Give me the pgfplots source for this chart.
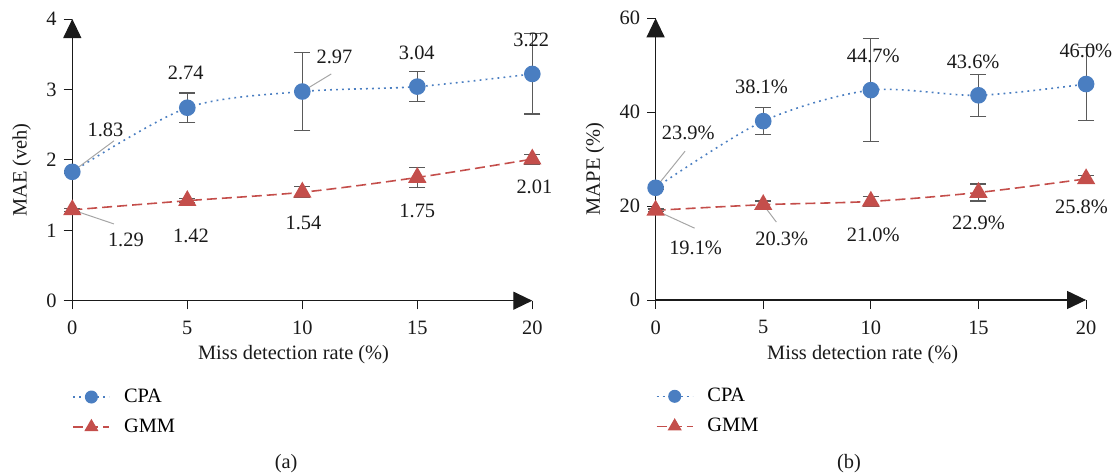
\documentclass[border=0pt]{standalone}
\usepackage{pgfplots}
\pgfplotsset{compat=1.18}
\usepackage{fontspec}
\setmainfont{Liberation Serif}
\usetikzlibrary{arrows.meta}

\definecolor{cpablue}{HTML}{4A7EC1}
\definecolor{gmmred}{HTML}{C44E4B}
\definecolor{errgray}{HTML}{5A5A5A}
\definecolor{leadgray}{HTML}{A6A6A6}
\definecolor{axisdark}{HTML}{1A1A1A}

\newcommand{\lblfont}{\fontsize{10.2bp}{12bp}\selectfont}

\pgfplotsset{
  panel/.style={
    scale only axis,
    axis lines=left,
    axis line style={axisdark, line width=0.6pt, -{Triangle[length=9.5bp,width=9bp]}},
    xmin=0, xmax=20, ymin=0,
    xtick={0,5,10,15,20},
    tick align=outside,
    major tick length=4.3bp,
    tick style={axisdark, line width=0.5pt},
    /pgf/number format/assume math mode=true,
    every tick label/.append style={font=\lblfont, text=axisdark},
    xticklabel style={yshift=-2.5bp},
    label style={font=\lblfont, text=axisdark},
    clip=false,
    xlabel={Miss detection rate (\%)},
    xlabel style={at={(axis description cs:0.481,-0.193)}, anchor=center},
    legend style={draw=none, fill=none, font=\lblfont, inner sep=0pt,
      nodes={inner sep=0pt, text height=7.5bp, text depth=2.5bp},
      row sep=5bp,
      /tikz/every odd column/.style={column sep=7bp},
      at={(axis description cs:0,-0.305)}, anchor=north west},
    legend cell align=left,
    legend image code/.code={
      \draw[##1, mark repeat=2, mark phase=2]
        plot coordinates {(0bp,0bp) (9bp,0bp) (18bp,0bp)};
    },
  },
  errstyle/.style={
    error bars/y dir=both,
    error bars/y explicit,
    error bars/error bar style={errgray, line width=0.6pt, solid},
    error bars/error mark options={rotate=90, mark size=4bp, errgray, line width=0.6pt, solid},
  },
  cpaline/.style={cpablue, line width=0.8pt, dash pattern=on 0.9bp off 2.1bp,
    mark=*, mark options={solid, fill=cpablue, draw=cpablue}},
  gmmline/.style={gmmred, line width=0.8pt, dash pattern=on 5bp off 2.5bp,
    mark=triangle*, mark options={solid, fill=gmmred, draw=gmmred}},
  cpa/.style={cpaline, smooth, mark size=3.75bp, errstyle},
  gmm/.style={gmmline, smooth, mark size=4.5bp, errstyle},
  cpakey/.style={cpaline, line width=0.7pt, mark size=2.9bp},
  gmmkey/.style={gmmline, line width=0.7pt, mark size=3.4bp},
}

\begin{document}
\begin{tikzpicture}
\useasboundingbox (0,0) rectangle (559.5bp,237bp);

% (a) mean absolute error
\begin{axis}[panel,
  at={(36.15bp,86.65bp)}, anchor=south west,
  width=230bp, height=140.85bp,
  ymax=4, ytick={0,1,2,3,4},
  ylabel={MAE (veh)},
  ylabel style={at={(axis description cs:-0.110,0.464)}, anchor=center},
]
\addlegendimage{cpakey}
\addlegendentry{CPA}
\addlegendimage{gmmkey}
\addlegendentry{GMM}

\addplot[forget plot, cpa] coordinates {
  (0,1.83) +- (0,0.02)
  (5,2.74) +- (0,0.21)
  (10,2.97) +- (0,0.55)
  (15,3.04) +- (0,0.21)
  (20,3.22) +- (0,0.57)
};
\addplot[forget plot, gmm] coordinates {
  (0,1.29) +- (0,0.02)
  (5,1.42) +- (0,0.03)
  (10,1.54) +- (0,0.08)
  (15,1.75) +- (0,0.14)
  (20,2.01) +- (0,0.07)
};

\draw[leadgray, line width=0.5pt] (axis cs:0,1.83) -- (axis cs:1.81,2.27);
\draw[leadgray, line width=0.5pt] (axis cs:10,2.97) -- (axis cs:11.26,3.22);
\draw[leadgray, line width=0.5pt] (axis cs:0,1.29) -- (axis cs:1.81,1.09);

\begin{scope}[every node/.style={font=\lblfont, text=axisdark}]
\node at (axis cs:1.44,2.43) {1.83};
\node at (axis cs:4.93,3.23) {2.74};
\node at (axis cs:11.40,3.46) {2.97};
\node at (axis cs:14.98,3.52) {3.04};
\node at (axis cs:19.95,3.70) {3.22};
\node at (axis cs:2.33,0.87) {1.29};
\node at (axis cs:5.16,0.92) {1.42};
\node at (axis cs:10.05,1.11) {1.54};
\node at (axis cs:15.00,1.28) {1.75};
\node at (axis cs:20.09,1.62) {2.01};
\node at (axis description cs:0.465,-0.58) {(a)};
\end{scope}
\end{axis}

% (b) mean absolute percentage error
\begin{axis}[panel,
  at={(327.8bp,87bp)}, anchor=south west,
  width=215.25bp, height=140.85bp,
  ymax=60, ytick={0,20,40,60},
  ylabel={MAPE (\%)},
  ylabel style={at={(axis description cs:-0.141,0.465)}, anchor=center},
]
\addlegendimage{cpakey}
\addlegendentry{CPA}
\addlegendimage{gmmkey}
\addlegendentry{GMM}

\addplot[forget plot, cpa] coordinates {
  (0,23.9) +- (0,0.3)
  (5,38.1) +- (0,2.9)
  (10,44.7) +- (0,11.0)
  (15,43.6) +- (0,4.5)
  (20,46.0) +- (0,7.7)
};
\addplot[forget plot, gmm] coordinates {
  (0,19.1) +- (0,0.3)
  (5,20.3) +- (0,0.8)
  (10,21.0) +- (0,1.1)
  (15,22.9) +- (0,1.8)
  (20,25.8) +- (0,0.8)
};

\draw[leadgray, line width=0.5pt] (axis cs:0,23.9) -- (axis cs:1.37,31.7);
\draw[leadgray, line width=0.5pt] (axis cs:0,19.1) -- (axis cs:1.81,15.3);
\draw[leadgray, line width=0.5pt] (axis cs:5,20.3) -- (axis cs:5.61,16.6);

\begin{scope}[every node/.style={font=\lblfont, text=axisdark}]
\node at (axis cs:1.52,35.5) {23.9\%};
\node at (axis cs:4.92,45.5) {38.1\%};
\node at (axis cs:10.11,51.9) {44.7\%};
\node at (axis cs:14.75,50.8) {43.6\%};
\node at (axis cs:19.99,53.1) {46.0\%};
\node at (axis cs:1.86,11.1) {19.1\%};
\node at (axis cs:5.86,13.0) {20.3\%};
\node at (axis cs:10.11,13.9) {21.0\%};
\node at (axis cs:15.00,16.4) {22.9\%};
\node at (axis cs:19.79,19.8) {25.8\%};
\node at (axis description cs:0.449,-0.58) {(b)};
\end{scope}
\end{axis}
\end{tikzpicture}
\end{document}
